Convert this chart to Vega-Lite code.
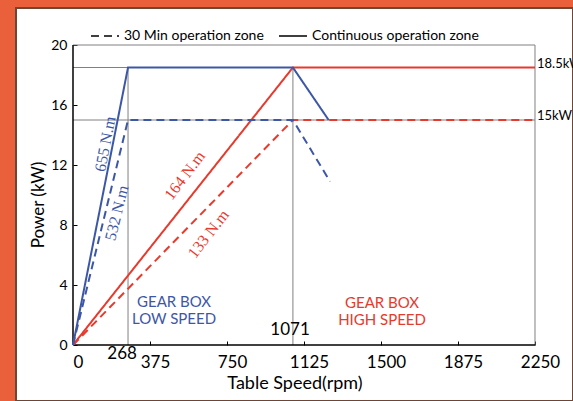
{
  "$schema": "https://vega.github.io/schema/vega-lite/v6.json",
  "width": 557,
  "height": 393,
  "autosize": {"type": "none"},
  "padding": {"left": 16, "top": 8, "right": 0, "bottom": 0},
  "background": "#E9603B",
  "config": {
    "view": {"fill": "white", "stroke": "#6e4636", "strokeWidth": 2},
    "font": "Lato"
  },
  "datasets": {
    "guides": [
      {"rpm": 0, "rpm2": 2250, "kW": 20, "kW2": 20},
      {"rpm": 2250, "rpm2": 2250, "kW": 0, "kW2": 20},
      {"rpm": 0, "rpm2": 2250, "kW": 18.5, "kW2": 18.5},
      {"rpm": 0, "rpm2": 2250, "kW": 15, "kW2": 15},
      {"rpm": 268, "rpm2": 268, "kW": 0, "kW2": 18.5},
      {"rpm": 1071, "rpm2": 1071, "kW": 0, "kW2": 18.5}
    ],
    "axes": [
      {"rpm": 0, "rpm2": 2250, "kW": 0, "kW2": 0},
      {"rpm": 0, "rpm2": 0, "kW": 0, "kW2": 20}
    ],
    "curves": [
      {"gear": "high", "zone": "Continuous operation zone", "i": 0, "rpm": 0, "kW": 0},
      {"gear": "high", "zone": "Continuous operation zone", "i": 1, "rpm": 1071, "kW": 18.5},
      {"gear": "high", "zone": "Continuous operation zone", "i": 2, "rpm": 2250, "kW": 18.5},
      {"gear": "high", "zone": "30 Min operation zone", "i": 0, "rpm": 0, "kW": 0},
      {"gear": "high", "zone": "30 Min operation zone", "i": 1, "rpm": 1071, "kW": 15},
      {"gear": "high", "zone": "30 Min operation zone", "i": 2, "rpm": 2250, "kW": 15},
      {"gear": "low", "zone": "Continuous operation zone", "i": 0, "rpm": 0, "kW": 0},
      {"gear": "low", "zone": "Continuous operation zone", "i": 1, "rpm": 268, "kW": 18.5},
      {"gear": "low", "zone": "Continuous operation zone", "i": 2, "rpm": 1071, "kW": 18.5},
      {"gear": "low", "zone": "Continuous operation zone", "i": 3, "rpm": 1245, "kW": 15},
      {"gear": "low", "zone": "30 Min operation zone", "i": 0, "rpm": 0, "kW": 0},
      {"gear": "low", "zone": "30 Min operation zone", "i": 1, "rpm": 268, "kW": 15},
      {"gear": "low", "zone": "30 Min operation zone", "i": 2, "rpm": 1071, "kW": 15},
      {"gear": "low", "zone": "30 Min operation zone", "i": 3, "rpm": 1252, "kW": 10.9}
    ]
  },
  "encoding": {
    "x": {
      "field": "rpm",
      "type": "quantitative",
      "scale": {"domain": [-277.6, 2435.1], "nice": false, "zero": false},
      "axis": {
        "title": "Table Speed(rpm)",
        "values": [0, 375, 750, 1125, 1500, 1875, 2250],
        "format": "d",
        "offset": -56,
        "domain": false,
        "grid": false,
        "tickSize": -4,
        "tickColor": "black",
        "labelPadding": 13,
        "labelFontSize": 17,
        "labelFont": "Lato",
        "labelColor": "black",
        "labelOffset": 5,
        "labelFlush": false,
        "labelOverlap": false,
        "titleFont": "Lato",
        "titleFontSize": 18,
        "titleFontWeight": "normal",
        "titleColor": "black",
        "titlePadding": 4
      }
    },
    "y": {
      "field": "kW",
      "type": "quantitative",
      "scale": {"domain": [-3.733, 22.467], "nice": false, "zero": false},
      "axis": {
        "title": "Power (kW)",
        "values": [0, 4, 8, 12, 16, 20],
        "format": "d",
        "offset": -57,
        "domain": false,
        "grid": false,
        "tickSize": -4,
        "tickColor": "black",
        "labelPadding": 10,
        "labelFontSize": 14,
        "labelFont": "Lato",
        "labelColor": "black",
        "labelFlush": false,
        "labelOverlap": false,
        "titleFont": "Lato",
        "titleFontSize": 17,
        "titleFontWeight": "normal",
        "titleColor": "black",
        "titlePadding": 3
      }
    }
  },
  "layer": [
    {
      "data": {"name": "guides"},
      "mark": {"type": "rule", "color": "#808080", "strokeWidth": 1},
      "encoding": {
        "x2": {"field": "rpm2"},
        "y2": {"field": "kW2"}
      }
    },
    {
      "data": {"name": "axes"},
      "mark": {"type": "rule", "color": "black", "strokeWidth": 1.5},
      "encoding": {
        "x2": {"field": "rpm2"},
        "y2": {"field": "kW2"}
      }
    },
    {
      "data": {"name": "curves"},
      "mark": {"type": "line", "strokeWidth": 2},
      "encoding": {
        "color": {
          "field": "gear",
          "type": "nominal",
          "scale": {"domain": ["low", "high"], "range": ["#3D57A7", "#E8392D"]},
          "legend": null
        },
        "strokeDash": {
          "field": "zone",
          "type": "nominal",
          "scale": {
            "domain": ["30 Min operation zone", "Continuous operation zone"],
            "range": [[8, 5], [1, 0]]
          },
          "legend": {
            "orient": "none",
            "legendX": 74,
            "legendY": 13,
            "direction": "horizontal",
            "title": null,
            "padding": 0,
            "symbolType": "stroke",
            "symbolSize": 784,
            "symbolStrokeWidth": 1.5,
            "symbolStrokeColor": "black",
            "labelFontSize": 14,
            "labelFont": "Lato",
            "labelColor": "black",
            "labelOffset": 4,
            "labelLimit": 0,
            "columnPadding": 12,
            "encode": {
              "symbols": {
                "update": {
                  "stroke": {"value": "black"},
                  "strokeDash": [
                    {"test": "datum.value === '30 Min operation zone'", "value": [4, 3]},
                    {"value": [1, 0]}
                  ]
                }
              }
            }
          }
        },
        "order": {"field": "i", "type": "quantitative"}
      }
    },
    {
      "data": {"values": [{"rpm": 158, "kW": 13.4, "label": "655 N.m"}]},
      "mark": {"type": "text", "font": "Liberation Serif", "fontSize": 16, "color": "#3D57A7", "angle": -79, "align": "center", "baseline": "middle"},
      "encoding": {"text": {"field": "label"}}
    },
    {
      "data": {"values": [{"rpm": 214, "kW": 8.8, "label": "532 N.m"}]},
      "mark": {"type": "text", "font": "Liberation Serif", "fontSize": 16, "color": "#3D57A7", "angle": -76, "align": "center", "baseline": "middle"},
      "encoding": {"text": {"field": "label"}}
    },
    {
      "data": {"values": [{"rpm": 545, "kW": 11.3, "label": "164 N.m"}]},
      "mark": {"type": "text", "font": "Liberation Serif", "fontSize": 16, "color": "#E8392D", "angle": -53, "align": "center", "baseline": "middle"},
      "encoding": {"text": {"field": "label"}}
    },
    {
      "data": {"values": [{"rpm": 660, "kW": 7.4, "label": "133 N.m"}]},
      "mark": {"type": "text", "font": "Liberation Serif", "fontSize": 16, "color": "#E8392D", "angle": -52, "align": "center", "baseline": "middle"},
      "encoding": {"text": {"field": "label"}}
    },
    {
      "data": {"values": [{"rpm": 492, "kW": 2.9, "label": "GEAR BOX\nLOW SPEED"}]},
      "mark": {"type": "text", "font": "Lato", "fontSize": 15, "color": "#3D57A7", "align": "center", "baseline": "middle", "lineBreak": "\n", "lineHeight": 17},
      "encoding": {"text": {"field": "label"}}
    },
    {
      "data": {"values": [{"rpm": 1505, "kW": 2.8, "label": "GEAR BOX\nHIGH SPEED"}]},
      "mark": {"type": "text", "font": "Lato", "fontSize": 15, "color": "#E8392D", "align": "center", "baseline": "middle", "lineBreak": "\n", "lineHeight": 17},
      "encoding": {"text": {"field": "label"}}
    },
    {
      "data": {"values": [{"rpm": 1057, "kW": 1.0, "label": "1071"}, {"rpm": 239, "kW": -0.6, "label": "268"}]},
      "mark": {"type": "text", "font": "Lato", "fontSize": 17, "color": "black", "align": "center", "baseline": "middle"},
      "encoding": {"text": {"field": "label"}}
    },
    {
      "data": {"values": [{"rpm": 2250, "kW": 18.5, "label": "18.5kW"}, {"rpm": 2250, "kW": 15, "label": "15kW"}]},
      "mark": {"type": "text", "font": "Lato", "fontSize": 13, "color": "black", "align": "left", "baseline": "middle", "dx": 2, "dy": -4},
      "encoding": {"text": {"field": "label"}}
    }
  ]
}
